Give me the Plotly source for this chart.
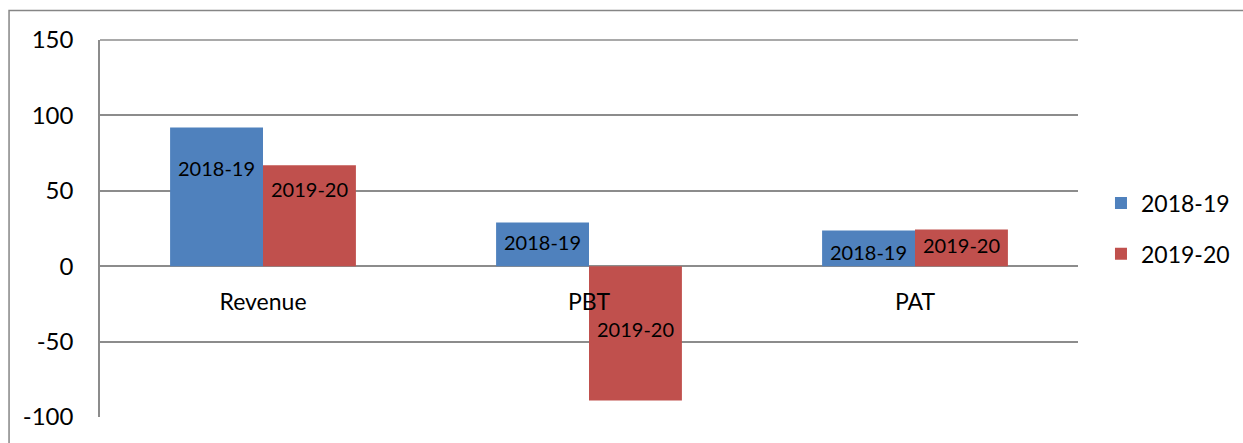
import plotly.graph_objects as go

categories = ["Revenue", "PBT", "PAT"]
series_names = ["2018-19", "2019-20"]
values_2018_19 = [92, 29, 23.7]
values_2019_20 = [67, -89, 24.4]
y_tick_values = [-100, -50, 0, 50, 100, 150]
y_tick_labels = ["-100", "-50", "0", "50", "100", "150"]

# style: vertical position of each data label as a fraction of its bar
label_frac_2018_19 = [0.71, 0.56, 0.41]
label_frac_2019_20 = [0.76, 0.47, 0.57]

colors = ["#4F81BD", "#C0504D"]
FONT = "Lato"
bar_w = 0.285
x_pos = list(range(len(categories)))

fig = go.Figure()
series = [values_2018_19, values_2019_20]
fracs = [label_frac_2018_19, label_frac_2019_20]
offsets = [-bar_w, 0.0]
for name, vals, col, off in zip(series_names, series, colors, offsets):
    fig.add_trace(go.Bar(
        x=x_pos, y=vals, name=name, width=bar_w, offset=off,
        marker=dict(color=col, line=dict(width=0)),
        legendgroup=name,
    ))

annotations = []
for name, vals, fr, off in zip(series_names, series, fracs, offsets):
    for i, (v, f) in enumerate(zip(vals, fr)):
        annotations.append(dict(
            x=x_pos[i] + off + bar_w / 2, y=v * f, xref="x", yref="y",
            text=name, showarrow=False,
            font=dict(family=FONT, size=20, color="#000000"),
        ))

fig.update_layout(
    width=1243, height=443,
    margin=dict(l=100, r=165, t=40, b=26, autoexpand=False),
    paper_bgcolor="white", plot_bgcolor="white",
    barmode="overlay",
    showlegend=True,
    legend=dict(
        x=1.0235, y=0.5, xanchor="left", yanchor="middle",
        font=dict(family=FONT, size=23, color="#000000"),
        tracegroupgap=18, bgcolor="rgba(0,0,0,0)",
    ),
    annotations=annotations,
    shapes=[
        dict(
            type="rect", xref="paper", yref="paper",
            x0=-0.093, x1=1.3, y0=-0.3, y1=1.078,
            line=dict(color="#868686", width=1.5), layer="below",
        ),
        dict(
            type="line", xref="paper", yref="paper",
            x0=0, x1=1, y0=1, y1=1,
            line=dict(color="#8C8C8C", width=1.5), layer="below",
        ),
    ],
    font=dict(family=FONT),
)

fig.update_xaxes(
    range=[-0.5, 2.5],
    tickmode="array", tickvals=x_pos, ticktext=categories,
    tickfont=dict(family=FONT, size=23, color="#000000"),
    anchor="free", position=0.4,
    showgrid=False, zeroline=False, showline=False,
    ticks="outside", ticklen=15, tickcolor="rgba(0,0,0,0)",
)
fig.update_yaxes(
    range=[-100, 150],
    tickmode="array", tickvals=y_tick_values, ticktext=y_tick_labels,
    tickfont=dict(family=FONT, size=24, color="#000000"),
    showgrid=True, gridcolor="#8C8C8C", gridwidth=1.5,
    zeroline=True, zerolinecolor="#8C8C8C", zerolinewidth=1.5,
    showline=True, linecolor="#8C8C8C", linewidth=1.5,
    ticks="outside", ticklen=20, tickcolor="rgba(0,0,0,0)",
)

fig.write_html(
    "out.html",
    config={"displayModeBar": False},
    post_script="document.body.style.margin='0';",
)
